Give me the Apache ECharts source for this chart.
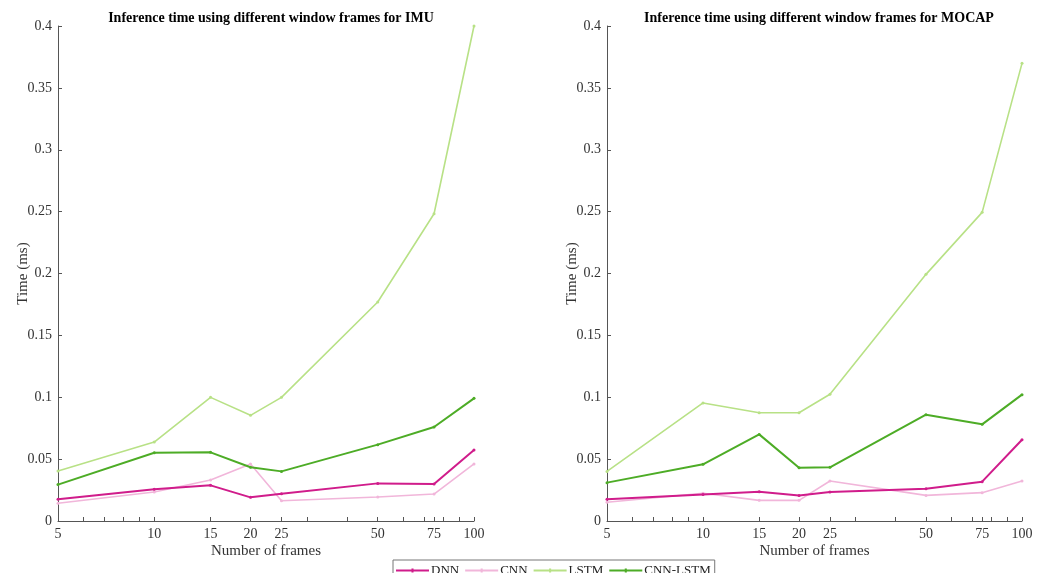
<!DOCTYPE html>
<html>
<head>
<meta charset="utf-8">
<script src="https://cdn.jsdelivr.net/npm/echarts@6/dist/echarts.min.js"></script>
<style>
  html, body { margin: 0; padding: 0; background: #fff; }
  #main { width: 1050px; height: 573px; }
</style>
</head>
<body>
<div id="main"></div>
<script>
// window sizes (x axis, log scale)
var frames = [5, 10, 15, 20, 25, 50, 75, 100];
var frameTicks = [5, 6, 7, 8, 9, 10, 15, 20, 25, 30, 40, 50, 60, 70, 75, 80, 90, 100];

// IMU inference time (ms)
var imuDNN = [0.0175, 0.0256, 0.0288, 0.0191, 0.0221, 0.0304, 0.0299, 0.0574];
var imuCNN = [0.0143, 0.0234, 0.0331, 0.0461, 0.0164, 0.0194, 0.0218, 0.0461];
var imuLSTM = [0.0404, 0.0638, 0.0999, 0.0854, 0.0999, 0.177, 0.2483, 0.4];
var imuCNNLSTM = [0.0294, 0.0552, 0.0555, 0.0434, 0.0401, 0.0617, 0.076, 0.0991];

// MOCAP inference time (ms)
var mocapDNN = [0.0175, 0.0215, 0.0237, 0.0207, 0.0234, 0.0261, 0.0318, 0.0657];
var mocapCNN = [0.0151, 0.0224, 0.0167, 0.0167, 0.0323, 0.0207, 0.0229, 0.0323];
var mocapLSTM = [0.0401, 0.0954, 0.0875, 0.0875, 0.1024, 0.1993, 0.2494, 0.3698];
var mocapCNNLSTM = [0.031, 0.0458, 0.07, 0.0431, 0.0434, 0.0859, 0.0781, 0.1021];

var names = ['DNN', 'CNN', 'LSTM', 'CNN-LSTM'];
var colors = ['#d01c8b', '#f1b6da', '#b8e186', '#4dac26'];
var widths = [2, 1.6, 1.6, 2];

var font = 'Liberation Serif';
var axisColor = '#555';

function pairs(ys) {
  return frames.map(function (f, i) { return [f, ys[i]]; });
}

function xAxisFor(idx) {
  return {
    type: 'log',
    logBase: 10,
    gridIndex: idx,
    min: 5,
    max: 100,
    name: 'Number of frames',
    nameLocation: 'middle',
    nameGap: 23,
    nameMoveOverlap: false,
    nameTextStyle: { fontFamily: font, fontSize: 15, color: '#333' },
    axisLine: { lineStyle: { color: axisColor } },
    axisTick: { inside: true, length: 4, customValues: frameTicks, lineStyle: { color: axisColor } },
    axisLabel: { customValues: frames, fontFamily: font, fontSize: 14, color: '#333', margin: 6 },
    splitLine: { show: false },
    minorTick: { show: false },
    minorSplitLine: { show: false }
  };
}

function yAxisFor(idx) {
  return {
    type: 'value',
    gridIndex: idx,
    min: 0,
    max: 0.4,
    interval: 0.05,
    name: 'Time (ms)',
    nameLocation: 'middle',
    nameGap: 27,
    nameMoveOverlap: false,
    nameTextStyle: { fontFamily: font, fontSize: 15, color: '#333' },
    axisLine: { show: true, lineStyle: { color: axisColor } },
    axisTick: { show: true, inside: true, length: 4, lineStyle: { color: axisColor } },
    axisLabel: { fontFamily: font, fontSize: 14, color: '#333', margin: 6 },
    splitLine: { show: false }
  };
}

var sets = [
  [imuDNN, imuCNN, imuLSTM, imuCNNLSTM],
  [mocapDNN, mocapCNN, mocapLSTM, mocapCNNLSTM]
];

var series = [];
sets.forEach(function (group, g) {
  group.forEach(function (ys, i) {
    series.push({
      name: names[i],
      type: 'line',
      xAxisIndex: g,
      yAxisIndex: g,
      data: pairs(ys),
      symbol: 'circle',
      symbolSize: 3,
      color: colors[i],
      lineStyle: { width: widths[i], color: colors[i] },
      itemStyle: { color: colors[i] },
      z: i === 0 ? 5 : 3
    });
  });
});

var chart = echarts.init(document.getElementById('main'));
chart.setOption({
  animation: false,
  backgroundColor: '#fff',
  title: [
    {
      text: 'Inference time using different window frames for IMU',
      left: 266, top: 6, textAlign: 'center',
      textStyle: { fontFamily: font, fontSize: 14, fontWeight: 'bold', color: '#000' }
    },
    {
      text: 'Inference time using different window frames for MOCAP',
      left: 814, top: 6, textAlign: 'center',
      textStyle: { fontFamily: font, fontSize: 14, fontWeight: 'bold', color: '#000' }
    }
  ],
  legend: {
    data: names,
    left: 393,
    top: 560,
    icon: 'path://M0,4 L32,4 L32,6 L0,6 Z M15,3 L17,3 L17,7 L15,7 Z',
    itemWidth: 33,
    itemHeight: 10,
    itemGap: 6,
    padding: [4, 4, 6, 3],
    borderColor: '#777',
    borderWidth: 1,
    textStyle: { fontFamily: font, fontSize: 13, color: '#222', padding: [0, 0, 0, -3] }
  },
  grid: [
    { left: 58, right: 576, top: 26, bottom: 52 },
    { left: 607, right: 28, top: 26, bottom: 52 }
  ],
  xAxis: [xAxisFor(0), xAxisFor(1)],
  yAxis: [yAxisFor(0), yAxisFor(1)],
  series: series
});
</script>
</body>
</html>
